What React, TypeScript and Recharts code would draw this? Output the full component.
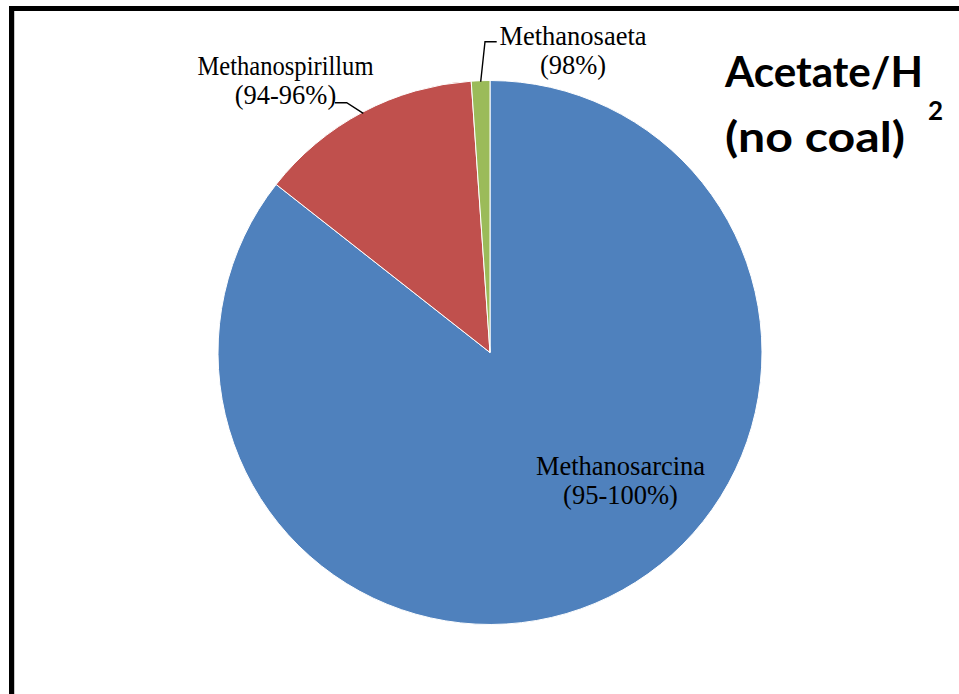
import { PieChart, Pie, Cell } from 'recharts';

const genera = ['Methanosarcina', 'Methanospirillum', 'Methanosaeta'];
const shares = [85.6, 13.3, 1.1];
const identity = ['(95-100%)', '(94-96%)', '(98%)'];
const colors = ['#4F81BD', '#C0504D', '#9BBB59'];

const data = genera.map((name, i) => ({ name, value: shares[i], identity: identity[i] }));

// where each label sits, relative to the pie centre (Excel placed them by hand)
const labelSpots: { dx: number; dy: number; width?: number; leader: number[][] | null }[] = [
  { dx: 130.5, dy: 122.5, leader: null },
  { dx: -204.5, dy: -277.5, width: 176, leader: [[-155, -249.8], [-143.3, -249.8], [-126.7, -239.2]] },
  { dx: 83, dy: -307.5, leader: [[6.7, -310.8], [-5, -310.8], [-9.3, -270.8]] },
];

const serif = "'Liberation Serif', 'Times New Roman', serif";

const renderLabel = (props: any) => {
  const { cx, cy } = props;
  const index = props.index ?? genera.indexOf(props.name);
  const spot = labelSpots[index];
  const d = data[index];
  const x = cx + spot.dx;
  return (
    <g>
      {spot.leader && (
        <polyline
          points={spot.leader.map(([lx, ly]) => `${cx + lx},${cy + ly}`).join(' ')}
          fill="none"
          stroke="#000"
          strokeWidth={1.4}
        />
      )}
      <text x={x} y={cy + spot.dy} textAnchor="middle" fontFamily={serif} fontSize={26.5} fill="#000">
        {spot.width ? (
          <tspan x={x} textLength={spot.width} lengthAdjust="spacingAndGlyphs">{d.name}</tspan>
        ) : (
          <tspan x={x}>{d.name}</tspan>
        )}
        <tspan x={x} dy={29}>{d.identity}</tspan>
      </text>
    </g>
  );
};

export default function App() {
  return (
    <div style={{ position: 'fixed', left: 0, top: 0, width: 959, height: 694, overflow: 'hidden', background: '#fff' }}>
      <PieChart
        width={959}
        height={694}
        margin={{ top: 0, right: 0, bottom: 0, left: 0 }}
        style={{ position: 'absolute', left: 0, top: 0 }}
      >
        <Pie
          data={data}
          dataKey="value"
          nameKey="name"
          cx={490}
          cy={352.5}
          outerRadius={272}
          startAngle={90}
          endAngle={-270}
          stroke="#fff"
          strokeWidth={1}
          label={renderLabel}
          labelLine={false}
          isAnimationActive={false}
        >
          {data.map((d, i) => (
            <Cell key={d.name} fill={colors[i]} />
          ))}
        </Pie>
      </PieChart>
      <svg width={959} height={694} style={{ position: 'absolute', left: 0, top: 0, pointerEvents: 'none' }}>
        <line x1={9} y1={8.5} x2={959} y2={8.5} stroke="#000" strokeWidth={5} />
        <line x1={11.5} y1={6} x2={11.5} y2={694} stroke="#000" strokeWidth={5} />
        <line x1={14.5} y1={11} x2={14.5} y2={694} stroke="#c8c8c8" strokeWidth={1} />
        <g fontFamily="Lato, 'Open Sans', sans-serif" fontWeight={700} fill="#000">
          <text x={725} y={87} fontSize={42} textLength={198} lengthAdjust="spacingAndGlyphs">Acetate/H</text>
          <text x={928} y={120} fontSize={26}>2</text>
          <text x={725} y={152} fontSize={42} textLength={180} lengthAdjust="spacingAndGlyphs">(no coal)</text>
        </g>
      </svg>
    </div>
  );
}
